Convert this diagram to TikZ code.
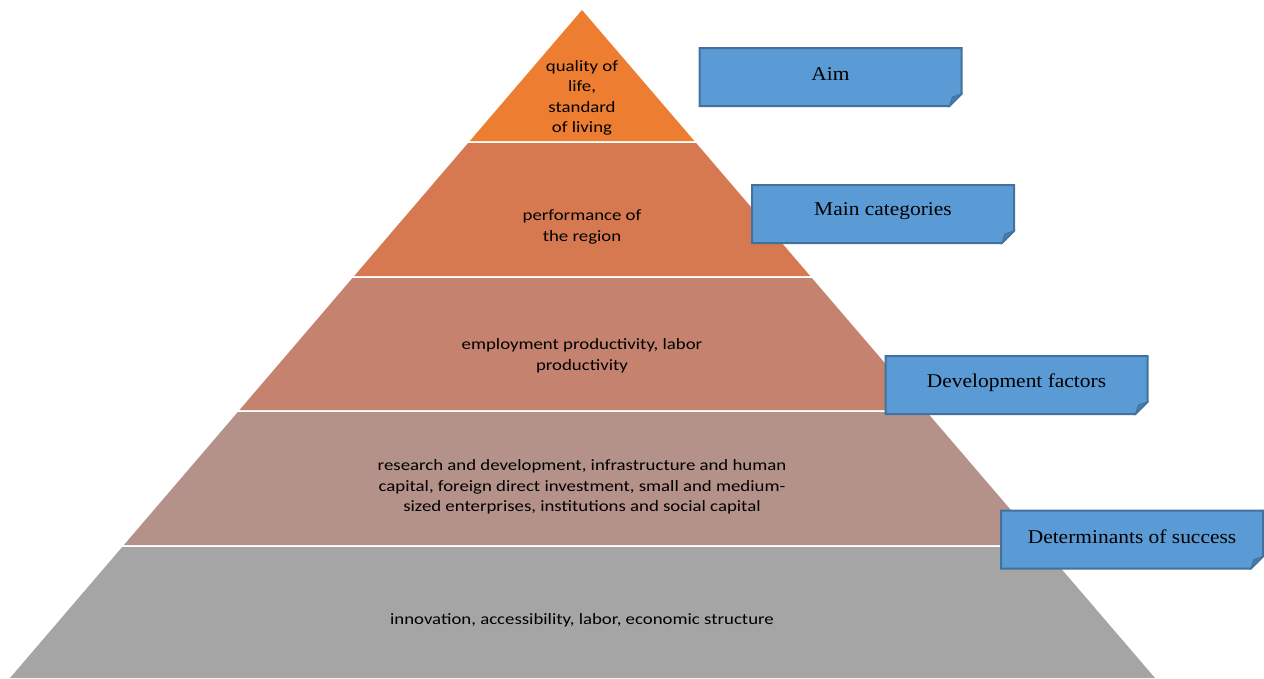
\documentclass[tikz,border=0pt]{standalone}
\usepackage{fontspec}
\setmainfont{Liberation Serif}[FakeStretch=1.1]
\newfontfamily\calib{Carlito}[FakeStretch=1.19]
\usetikzlibrary{calc}
\definecolor{bandA}{RGB}{237,125,49}
\definecolor{bandB}{RGB}{214,121,80}
\definecolor{bandC}{RGB}{196,130,111}
\definecolor{bandD}{RGB}{180,146,138}
\definecolor{bandE}{RGB}{165,165,165}
\definecolor{boxfill}{RGB}{91,155,213}
\definecolor{boxline}{RGB}{65,113,156}
\definecolor{folddark}{RGB}{72,124,172}
\tikzset{
  ptext/.style={font=\calib\fontsize{15.8}{20.5}\selectfont, align=center, text=black, inner sep=0pt},
  boxlbl/.style={font=\fontsize{19.5}{22}\selectfont, text=black, inner sep=0pt},
  boxshape/.style={fill=boxfill, draw=boxline, line width=2pt, line join=miter},
}
\newcommand\foldbox[4]{%
  \coordinate (#1-c) at (#2,#3);
  \path[boxshape] ($(#1-c)+(-131,-29)$) -- ($(#1-c)+(131,-29)$) -- ($(#1-c)+(131,17)$)
     -- ($(#1-c)+(119,29)$) -- ($(#1-c)+(-131,29)$) -- cycle;
  \fill[folddark, draw=boxline, line width=1pt] ($(#1-c)+(119,29)$) -- ($(#1-c)+(131,17)$) -- ($(#1-c)+(122,20)$) -- cycle;
  \node[boxlbl] (#1) at ($(#1-c)+(0,-2.5)$) {#4};
}
\begin{document}
\begin{tikzpicture}[x=1pt,y=-1pt]
\useasboundingbox (0,0) rectangle (1264,678);
% pyramid bands
\fill[bandA] (582,10) -- (694.4,141) -- (469.8,141) -- cycle;
\fill[bandB] (468.1,143) -- (696.1,143) -- (810.2,276) -- (354.2,276) -- cycle;
\fill[bandC] (352.5,278) -- (811.9,278) -- (925.1,410) -- (239.5,410) -- cycle;
\fill[bandD] (237.8,412) -- (926.8,412) -- (1040.9,545) -- (123.9,545) -- cycle;
\fill[bandE] (122.2,547) -- (1042.6,547) -- (1155,678) -- (10,678) -- cycle;
% texts
\node[ptext] (t1) at (582,98) {quality of\\life,\\standard\\of living};
\node[ptext] (t2) at (582,227) {performance of\\the region};
\node[ptext] (t3) at (582,356) {employment productivity, labor\\productivity};
\node[ptext] (t4) at (582,487) {research and development, infrastructure and human\\capital, foreign direct investment, small and medium-\\sized enterprises, institutions and social capital};
\node[ptext] (t5) at (582,620) {innovation, accessibility, labor, economic structure};
% boxes
\foldbox{aim}{830.5}{77}{Aim}
\foldbox{main}{883}{214}{Main categories}
\foldbox{dev}{1016.5}{385}{Development factors}
\foldbox{det}{1132}{539.5}{Determinants of success}
\end{tikzpicture}
\end{document}
